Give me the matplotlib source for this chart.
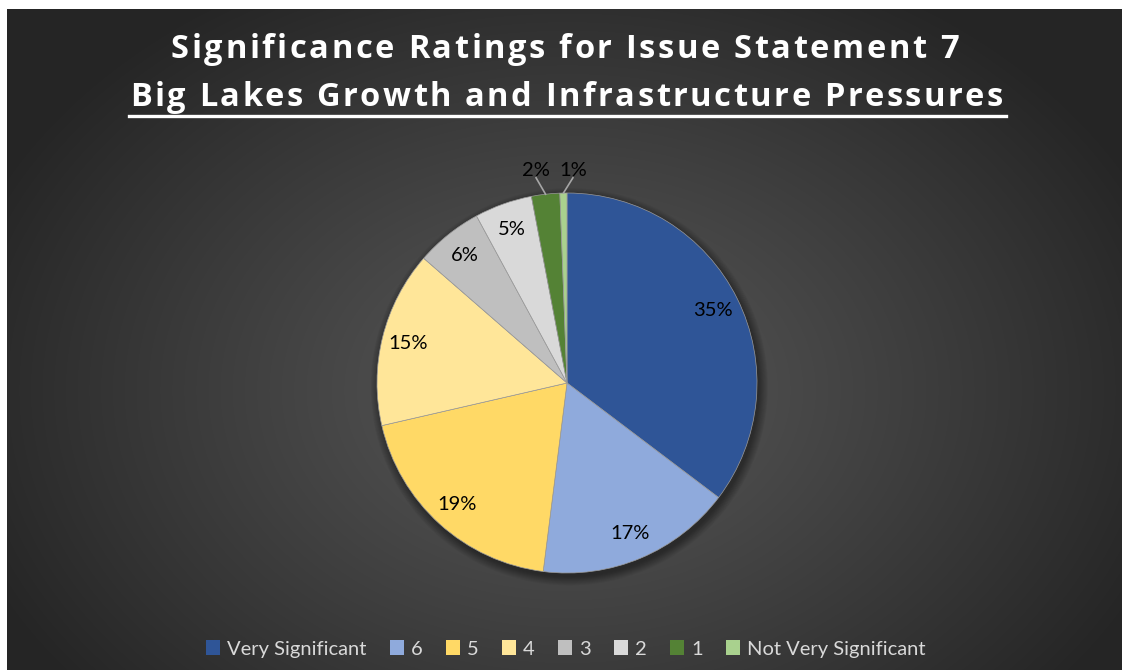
import matplotlib
matplotlib.use('Agg')
import matplotlib.pyplot as plt
import numpy as np
from matplotlib.patches import Circle, Patch
from matplotlib.font_manager import FontProperties, findfont
from matplotlib.ft2font import FT2Font

categories = ['Very Significant', '6', '5', '4', '3', '2', '1', 'Not Very Significant']
shares = [35.3, 16.7, 19.4, 15.0, 5.7, 4.9, 2.4, 0.6]
colors = ['#2F5597', '#8FAADC', '#FFD966', '#FFE699', '#BFBFBF', '#D9D9D9', '#548235', '#A9D18E']
title_top = 'Significance Ratings for Issue Statement 7'
title_bottom = 'Big Lakes Growth and Infrastructure Pressures'

W, H = 1122, 670


def spaced_text(fig, x_left, y_base, s, width_px, size, family, weight):
    # letter-spaced title: lay out glyphs one by one using their advances
    prop = FontProperties(family=family, weight=weight, size=size)
    font = FT2Font(findfont(prop))
    font.set_size(size, 100)
    adv = []
    for ch in s:
        g = font.load_char(ord(ch))
        adv.append(g.linearHoriAdvance / 65536.0)
    track = (width_px - sum(adv)) / (len(s) - 1)
    x = x_left
    for ch, a in zip(s, adv):
        fig.text(x / W, 1 - y_base / H, ch, ha='left', va='baseline', color='white',
                 fontproperties=prop)
        x += a + track


def main():
    fig = plt.figure(figsize=(W / 100, H / 100), dpi=100)
    fig.patch.set_facecolor('white')

    # dark radial background (thin white strip on top and left)
    bg = fig.add_axes([7 / W, 0, 1 - 7 / W, 1 - 9 / H])
    yy, xx = np.mgrid[9:H, 7:W]
    d = np.sqrt(((xx - 567) / 640.0) ** 2 + ((yy - 390) / 470.0) ** 2)
    d = np.clip(d, 0, 1)
    inner, outer = 0x58 / 255, 0x25 / 255
    g = inner + (outer - inner) * d ** 1.1
    bg.imshow(np.dstack([g, g, g]), aspect='auto', extent=(0, 1, 0, 1))
    bg.set_xlim(0, 1)
    bg.set_ylim(0, 1)
    bg.axis('off')

    # pie
    cx, cy, R = 567, 383, 190
    ax = fig.add_axes([(cx - R) / W, (H - cy - R) / H, 2 * R / W, 2 * R / H])
    for k in range(10):
        ax.add_patch(Circle((0.012, -0.02), 1.0 + 0.005 * k, color='black',
                            alpha=0.045, lw=0, clip_on=False))
    wedges, _ = ax.pie(shares, colors=colors, startangle=90, counterclock=False, radius=1,
                       wedgeprops=dict(linewidth=0.5, edgecolor='#9a9a9a'))
    ax.set_xlim(-1, 1)
    ax.set_ylim(-1, 1)
    ax.set_aspect('equal')
    ax.axis('off')

    small = [i for i, v in enumerate(shares) if v < 3]
    for i, (w, v) in enumerate(zip(wedges, shares)):
        mid = np.deg2rad((w.theta1 + w.theta2) / 2)
        ux, uy = np.cos(mid), np.sin(mid)
        txt = '{:.0f}%'.format(v)
        if i not in small:
            ax.text(0.86 * ux, 0.86 * uy, txt, ha='center', va='center',
                    fontsize=14.5, color='black', family='Lato')
        else:
            j = small.index(i)
            shift = (j - (len(small) - 1) / 2) * 0.1
            ex, ey = ux + shift, 1.08
            ax.plot([ux, ex], [uy, ey], color='#a6a6a6', lw=1.2, clip_on=False)
            ax.text(ex, 1.118, txt, ha='center', va='center',
                    fontsize=14.5, color='black', family='Lato', clip_on=False)

    # titles
    spaced_text(fig, 171, 58, title_top, 788, 23.5, 'Open Sans', 'bold')
    spaced_text(fig, 130, 106, title_bottom, 873, 23.5, 'Open Sans', 'bold')
    fig.add_artist(plt.Line2D([129 / W, 1006 / W], [1 - 115.5 / H, 1 - 115.5 / H],
                              color='white', lw=2.4))

    handles = [Patch(facecolor=c, edgecolor='none') for c in colors]
    leg = fig.legend(handles, categories, loc='center', bbox_to_anchor=(566 / W, 21 / H),
                     ncol=len(categories), frameon=False,
                     handlelength=0.7, handleheight=0.75, handletextpad=0.35,
                     columnspacing=1.15, prop={'family': 'Lato', 'size': 14.5})
    for t in leg.get_texts():
        t.set_color('#d9d9d9')

    fig.savefig('out.png', dpi=100, facecolor=fig.get_facecolor())


if __name__ == '__main__':
    main()
